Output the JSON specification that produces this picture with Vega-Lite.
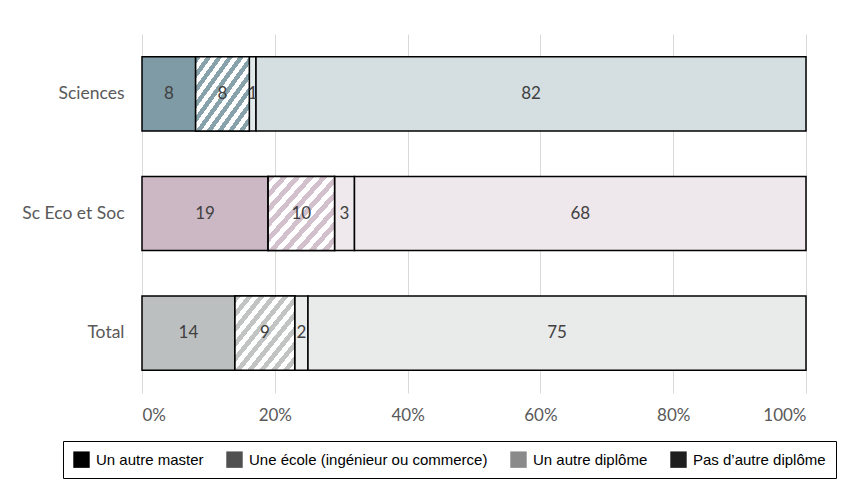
{
  "$schema": "https://vega.github.io/schema/vega-lite/v6.json",
  "width": 664,
  "height": 359,
  "autosize": {"type": "none"},
  "padding": {"left": 142, "top": 34, "right": 35, "bottom": 91},
  "background": "#ffffff",
  "config": {"view": {"stroke": null}},
  "data": {
    "values": [
      {"groupe": "Sciences", "type": "Un autre master", "valeur": 8},
      {"groupe": "Sciences", "type": "Une école (ingénieur ou commerce)", "valeur": 8},
      {"groupe": "Sciences", "type": "Un autre diplôme", "valeur": 1},
      {"groupe": "Sciences", "type": "Pas d’autre diplôme", "valeur": 82},
      {"groupe": "Sc Eco et Soc", "type": "Un autre master", "valeur": 19},
      {"groupe": "Sc Eco et Soc", "type": "Une école (ingénieur ou commerce)", "valeur": 10},
      {"groupe": "Sc Eco et Soc", "type": "Un autre diplôme", "valeur": 3},
      {"groupe": "Sc Eco et Soc", "type": "Pas d’autre diplôme", "valeur": 68},
      {"groupe": "Total", "type": "Un autre master", "valeur": 14},
      {"groupe": "Total", "type": "Une école (ingénieur ou commerce)", "valeur": 9},
      {"groupe": "Total", "type": "Un autre diplôme", "valeur": 2},
      {"groupe": "Total", "type": "Pas d’autre diplôme", "valeur": 75}
    ]
  },
  "transform": [
    {"stack": "valeur", "groupby": ["groupe"], "offset": "normalize", "as": ["debut", "fin"]},
    {"calculate": "(datum.debut + datum.fin) / 2", "as": "milieu"}
  ],
  "encoding": {
    "y": {
      "field": "groupe", "type": "nominal",
      "sort": ["Sciences", "Sc Eco et Soc", "Total"],
      "scale": {"paddingInner": 0.38, "paddingOuter": 0.19},
      "axis": {"title": null, "domain": false, "ticks": false, "labelPadding": 18, "labelFont": "Lato", "labelFontSize": 17.5, "labelColor": "#595959"}
    }
  },
  "layer": [
    {
      "mark": {"type": "bar", "stroke": "#000000", "strokeWidth": 1.5},
      "encoding": {
        "x": {
          "field": "debut", "type": "quantitative", "title": null,
          "scale": {"domain": [0, 1], "nice": false},
          "axis": {"title": null, "format": ".0%", "values": [0, 0.2, 0.4, 0.6, 0.8, 1], "domain": false, "ticks": false, "labelPadding": 14, "labelFont": "Lato", "labelFontSize": 17, "labelColor": "#595959", "grid": true, "gridColor": "#d9d9d9", "gridWidth": 1}
        },
        "x2": {"field": "fin"},
        "fill": {
          "field": "type", "type": "nominal",
          "scale": {
            "domain": ["Un autre master", "Une école (ingénieur ou commerce)", "Un autre diplôme", "Pas d’autre diplôme"],
            "range": ["#000000", "#505050", "#8a8a8a", "#1e1e1e"]
          },
          "legend": {
            "orient": "none", "legendX": -79, "legendY": 407, "direction": "horizontal",
            "title": null, "strokeColor": "#000000", "fillColor": "#ffffff", "padding": 10,
            "symbolType": "square", "symbolSize": 270, "symbolStrokeWidth": 0,
            "labelFont": "Liberation Sans", "labelFontSize": 15, "labelColor": "#000000",
            "labelOffset": 6, "columnPadding": 22, "labelLimit": 400
          },
          "condition": [
            {"test": "datum.groupe === 'Sciences' && datum.type === 'Un autre master'", "value": "#7f9ba5"},
            {"test": "datum.groupe === 'Sciences' && datum.type === 'Une école (ingénieur ou commerce)'", "value": "#bccdd2"},
            {"test": "datum.groupe === 'Sciences' && datum.type === 'Un autre diplôme'", "value": "#e2e9eb"},
            {"test": "datum.groupe === 'Sciences' && datum.type === 'Pas d’autre diplôme'", "value": "#d5dfe2"},
            {"test": "datum.groupe === 'Sc Eco et Soc' && datum.type === 'Un autre master'", "value": "#cbb8c4"},
            {"test": "datum.groupe === 'Sc Eco et Soc' && datum.type === 'Une école (ingénieur ou commerce)'", "value": "#e6dce2"},
            {"test": "datum.groupe === 'Sc Eco et Soc' && datum.type === 'Un autre diplôme'", "value": "#efe8ec"},
            {"test": "datum.groupe === 'Sc Eco et Soc' && datum.type === 'Pas d’autre diplôme'", "value": "#eee7eb"},
            {"test": "datum.groupe === 'Total' && datum.type === 'Un autre master'", "value": "#bcbfbf"},
            {"test": "datum.groupe === 'Total' && datum.type === 'Une école (ingénieur ou commerce)'", "value": "#dfe0e0"},
            {"test": "datum.groupe === 'Total' && datum.type === 'Un autre diplôme'", "value": "#ebecec"},
            {"test": "datum.groupe === 'Total' && datum.type === 'Pas d’autre diplôme'", "value": "#e9eaea"}
          ]
        }
      }
    },
    {
      "transform": [{"filter": "datum.groupe === 'Sciences' && datum.type === 'Une école (ingénieur ou commerce)'"}],
      "mark": {"type": "bar", "stroke": "#000000", "strokeWidth": 1.5, "fill": {"gradient": "linear", "x1": 0, "y1": 0, "x2": 1, "y2": 1, "stops": [
        {"offset": 0, "color": "#87a2ab"}, {"offset": 0.05, "color": "#87a2ab"}, {"offset": 0.05, "color": "#ffffff"}, {"offset": 0.1, "color": "#ffffff"},
        {"offset": 0.1, "color": "#87a2ab"}, {"offset": 0.15, "color": "#87a2ab"}, {"offset": 0.15, "color": "#ffffff"}, {"offset": 0.2, "color": "#ffffff"},
        {"offset": 0.2, "color": "#87a2ab"}, {"offset": 0.25, "color": "#87a2ab"}, {"offset": 0.25, "color": "#ffffff"}, {"offset": 0.3, "color": "#ffffff"},
        {"offset": 0.3, "color": "#87a2ab"}, {"offset": 0.35, "color": "#87a2ab"}, {"offset": 0.35, "color": "#ffffff"}, {"offset": 0.4, "color": "#ffffff"},
        {"offset": 0.4, "color": "#87a2ab"}, {"offset": 0.45, "color": "#87a2ab"}, {"offset": 0.45, "color": "#ffffff"}, {"offset": 0.5, "color": "#ffffff"},
        {"offset": 0.5, "color": "#87a2ab"}, {"offset": 0.55, "color": "#87a2ab"}, {"offset": 0.55, "color": "#ffffff"}, {"offset": 0.6, "color": "#ffffff"},
        {"offset": 0.6, "color": "#87a2ab"}, {"offset": 0.65, "color": "#87a2ab"}, {"offset": 0.65, "color": "#ffffff"}, {"offset": 0.7, "color": "#ffffff"},
        {"offset": 0.7, "color": "#87a2ab"}, {"offset": 0.75, "color": "#87a2ab"}, {"offset": 0.75, "color": "#ffffff"}, {"offset": 0.8, "color": "#ffffff"},
        {"offset": 0.8, "color": "#87a2ab"}, {"offset": 0.85, "color": "#87a2ab"}, {"offset": 0.85, "color": "#ffffff"}, {"offset": 0.9, "color": "#ffffff"},
        {"offset": 0.9, "color": "#87a2ab"}, {"offset": 0.95, "color": "#87a2ab"}, {"offset": 0.95, "color": "#ffffff"}, {"offset": 1, "color": "#ffffff"}
      ]}},
      "encoding": {
        "x": {"field": "debut", "type": "quantitative", "title": null},
        "x2": {"field": "fin"}
      }
    },
    {
      "transform": [{"filter": "datum.groupe === 'Sc Eco et Soc' && datum.type === 'Une école (ingénieur ou commerce)'"}],
      "mark": {"type": "bar", "stroke": "#000000", "strokeWidth": 1.5, "fill": {"gradient": "linear", "x1": 0, "y1": 0, "x2": 1, "y2": 1, "stops": [
        {"offset": 0, "color": "#d2c1cc"}, {"offset": 0.05, "color": "#d2c1cc"}, {"offset": 0.05, "color": "#ffffff"}, {"offset": 0.1, "color": "#ffffff"},
        {"offset": 0.1, "color": "#d2c1cc"}, {"offset": 0.15, "color": "#d2c1cc"}, {"offset": 0.15, "color": "#ffffff"}, {"offset": 0.2, "color": "#ffffff"},
        {"offset": 0.2, "color": "#d2c1cc"}, {"offset": 0.25, "color": "#d2c1cc"}, {"offset": 0.25, "color": "#ffffff"}, {"offset": 0.3, "color": "#ffffff"},
        {"offset": 0.3, "color": "#d2c1cc"}, {"offset": 0.35, "color": "#d2c1cc"}, {"offset": 0.35, "color": "#ffffff"}, {"offset": 0.4, "color": "#ffffff"},
        {"offset": 0.4, "color": "#d2c1cc"}, {"offset": 0.45, "color": "#d2c1cc"}, {"offset": 0.45, "color": "#ffffff"}, {"offset": 0.5, "color": "#ffffff"},
        {"offset": 0.5, "color": "#d2c1cc"}, {"offset": 0.55, "color": "#d2c1cc"}, {"offset": 0.55, "color": "#ffffff"}, {"offset": 0.6, "color": "#ffffff"},
        {"offset": 0.6, "color": "#d2c1cc"}, {"offset": 0.65, "color": "#d2c1cc"}, {"offset": 0.65, "color": "#ffffff"}, {"offset": 0.7, "color": "#ffffff"},
        {"offset": 0.7, "color": "#d2c1cc"}, {"offset": 0.75, "color": "#d2c1cc"}, {"offset": 0.75, "color": "#ffffff"}, {"offset": 0.8, "color": "#ffffff"},
        {"offset": 0.8, "color": "#d2c1cc"}, {"offset": 0.85, "color": "#d2c1cc"}, {"offset": 0.85, "color": "#ffffff"}, {"offset": 0.9, "color": "#ffffff"},
        {"offset": 0.9, "color": "#d2c1cc"}, {"offset": 0.95, "color": "#d2c1cc"}, {"offset": 0.95, "color": "#ffffff"}, {"offset": 1, "color": "#ffffff"}
      ]}},
      "encoding": {
        "x": {"field": "debut", "type": "quantitative", "title": null},
        "x2": {"field": "fin"}
      }
    },
    {
      "transform": [{"filter": "datum.groupe === 'Total' && datum.type === 'Une école (ingénieur ou commerce)'"}],
      "mark": {"type": "bar", "stroke": "#000000", "strokeWidth": 1.5, "fill": {"gradient": "linear", "x1": 0, "y1": 0, "x2": 1, "y2": 1, "stops": [
        {"offset": 0, "color": "#c2c4c4"}, {"offset": 0.05, "color": "#c2c4c4"}, {"offset": 0.05, "color": "#ffffff"}, {"offset": 0.1, "color": "#ffffff"},
        {"offset": 0.1, "color": "#c2c4c4"}, {"offset": 0.15, "color": "#c2c4c4"}, {"offset": 0.15, "color": "#ffffff"}, {"offset": 0.2, "color": "#ffffff"},
        {"offset": 0.2, "color": "#c2c4c4"}, {"offset": 0.25, "color": "#c2c4c4"}, {"offset": 0.25, "color": "#ffffff"}, {"offset": 0.3, "color": "#ffffff"},
        {"offset": 0.3, "color": "#c2c4c4"}, {"offset": 0.35, "color": "#c2c4c4"}, {"offset": 0.35, "color": "#ffffff"}, {"offset": 0.4, "color": "#ffffff"},
        {"offset": 0.4, "color": "#c2c4c4"}, {"offset": 0.45, "color": "#c2c4c4"}, {"offset": 0.45, "color": "#ffffff"}, {"offset": 0.5, "color": "#ffffff"},
        {"offset": 0.5, "color": "#c2c4c4"}, {"offset": 0.55, "color": "#c2c4c4"}, {"offset": 0.55, "color": "#ffffff"}, {"offset": 0.6, "color": "#ffffff"},
        {"offset": 0.6, "color": "#c2c4c4"}, {"offset": 0.65, "color": "#c2c4c4"}, {"offset": 0.65, "color": "#ffffff"}, {"offset": 0.7, "color": "#ffffff"},
        {"offset": 0.7, "color": "#c2c4c4"}, {"offset": 0.75, "color": "#c2c4c4"}, {"offset": 0.75, "color": "#ffffff"}, {"offset": 0.8, "color": "#ffffff"},
        {"offset": 0.8, "color": "#c2c4c4"}, {"offset": 0.85, "color": "#c2c4c4"}, {"offset": 0.85, "color": "#ffffff"}, {"offset": 0.9, "color": "#ffffff"},
        {"offset": 0.9, "color": "#c2c4c4"}, {"offset": 0.95, "color": "#c2c4c4"}, {"offset": 0.95, "color": "#ffffff"}, {"offset": 1, "color": "#ffffff"}
      ]}},
      "encoding": {
        "x": {"field": "debut", "type": "quantitative", "title": null},
        "x2": {"field": "fin"}
      }
    },
    {
      "mark": {"type": "text", "font": "Lato", "fontSize": 17, "color": "#404040", "align": "center", "baseline": "middle"},
      "encoding": {
        "x": {"field": "milieu", "type": "quantitative", "title": null},
        "text": {"field": "valeur", "type": "quantitative"}
      }
    }
  ]
}
